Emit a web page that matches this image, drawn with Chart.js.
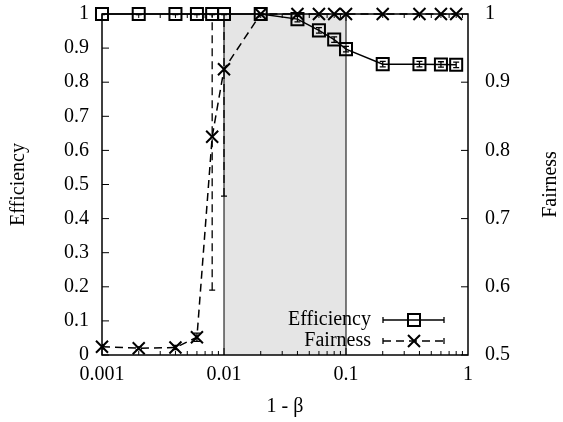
<!DOCTYPE html>
<html><head><meta charset="utf-8">
<script src="https://cdn.jsdelivr.net/npm/chart.js@4/dist/chart.umd.min.js"></script>
<style>html,body{margin:0;padding:0;background:#fff}#wrap{width:563px;height:422px;position:relative}canvas{display:block}</style>
</head><body><div id="wrap"><canvas id="c" width="563" height="422"></canvas></div>
<script>
// ---- data ----
const xValues = [0.001, 0.002, 0.004, 0.006, 0.008, 0.01, 0.02, 0.04, 0.06, 0.08, 0.1, 0.2, 0.4, 0.6, 0.8];
const efficiency = [1, 1, 1, 1, 1, 1, 1, 0.985, 0.952, 0.925, 0.897, 0.853, 0.853, 0.852, 0.851];
const efficiencyErr = [0.002, 0.002, 0.002, 0.002, 0.002, 0.002, 0.002, 0.008, 0.008, 0.008, 0.008, 0.008, 0.008, 0.008, 0.008];
const fairness = [0.512, 0.510, 0.511, 0.526, 0.82, 0.919, 1, 1, 1, 1, 1, 1, 1, 1, 1];
const fairnessErr = [0.003, 0.002, 0.003, 0.006, 0.225, 0.186, 0, 0, 0, 0, 0, 0, 0, 0, 0];
const shadeRange = [0.01, 0.1];
const xTicks = [0.001, 0.01, 0.1, 1];
const xTickLabels = ['0.001', '0.01', '0.1', '1'];
const yLeftTicks = [0, 0.1, 0.2, 0.3, 0.4, 0.5, 0.6, 0.7, 0.8, 0.9, 1];
const yRightTicks = [0.5, 0.6, 0.7, 0.8, 0.9, 1];
const seriesNames = ['Efficiency', 'Fairness'];
const xTitle = '1 - β';
const yLeftTitle = 'Efficiency';
const yRightTitle = 'Fairness';

const FONT = 'Liberation Serif';
const DASH = [8, 5];

function fmt(v){ return String(Math.round(v*10)/10); }

const deco = {
  id: 'deco',
  beforeDatasetsDraw(chart){
    const {ctx, chartArea:a, scales} = chart;
    const x = scales.x, yl = scales.y, yr = scales.y2;
    const x0 = x.getPixelForValue(shadeRange[0]), x1 = x.getPixelForValue(shadeRange[1]);
    ctx.save();
    ctx.fillStyle = '#e5e5e5';
    ctx.fillRect(x0, a.top, x1 - x0, a.bottom - a.top);
    ctx.strokeStyle = '#000'; ctx.lineWidth = 1;
    ctx.beginPath();
    ctx.moveTo(x0, a.top); ctx.lineTo(x0, a.bottom);
    ctx.moveTo(x1, a.top); ctx.lineTo(x1, a.bottom);
    ctx.stroke();
    ctx.beginPath(); ctx.rect(a.left, a.top, a.right - a.left, a.bottom - a.top); ctx.clip();
    const bars = (vals, errs, scale, dash) => {
      ctx.setLineDash(dash); ctx.lineWidth = 1.3;
      for (let i = 0; i < xValues.length; i++) {
        if (!errs[i]) continue;
        const px = x.getPixelForValue(xValues[i]);
        const ya = scale.getPixelForValue(vals[i] - errs[i]);
        const yb = scale.getPixelForValue(vals[i] + errs[i]);
        ctx.beginPath(); ctx.moveTo(px, ya); ctx.lineTo(px, yb); ctx.stroke();
        ctx.setLineDash([]);
        ctx.beginPath();
        ctx.moveTo(px - 3, ya); ctx.lineTo(px + 3, ya);
        ctx.moveTo(px - 3, yb); ctx.lineTo(px + 3, yb);
        ctx.stroke();
        ctx.setLineDash(dash);
      }
      ctx.setLineDash([]);
    };
    bars(efficiency, efficiencyErr, yl, []);
    bars(fairness, fairnessErr, yr, DASH);
    ctx.restore();
  },
  afterDatasetsDraw(chart){
    const {ctx, chartArea:a, scales} = chart;
    const x = scales.x, yl = scales.y, yr = scales.y2;
    ctx.save();
    ctx.strokeStyle = '#000'; ctx.lineWidth = 1.5;
    ctx.strokeRect(a.left, a.top, a.right - a.left, a.bottom - a.top);
    ctx.lineWidth = 1;
    ctx.beginPath();
    for (let d = -3; d < 0; d++) {
      for (let m = 1; m <= 9; m++) {
        const v = m * Math.pow(10, d);
        const px = x.getPixelForValue(v);
        const len = m === 1 ? 7 : 4;
        ctx.moveTo(px, a.bottom); ctx.lineTo(px, a.bottom - len);
        ctx.moveTo(px, a.top); ctx.lineTo(px, a.top + len);
      }
    }
    yLeftTicks.forEach(v => { const py = yl.getPixelForValue(v); ctx.moveTo(a.left, py); ctx.lineTo(a.left + 7, py); });
    yRightTicks.forEach(v => { const py = yr.getPixelForValue(v); ctx.moveTo(a.right, py); ctx.lineTo(a.right - 7, py); });
    ctx.stroke();
    ctx.font = '20px "' + FONT + '"';
    ctx.fillStyle = '#000';
    ctx.textAlign = 'right'; ctx.textBaseline = 'middle';
    const lx0 = 383, lx1 = 444, lm = 414;
    const rows = [[seriesNames[0], 320, [], 'sq'], [seriesNames[1], 341, DASH, 'x']];
    rows.forEach(([t, y, dash, mk]) => {
      ctx.fillText(t, 371, y);
      ctx.lineWidth = 1.3;
      ctx.setLineDash(dash);
      ctx.beginPath(); ctx.moveTo(lx0, y); ctx.lineTo(lx1, y); ctx.stroke();
      ctx.setLineDash([]);
      ctx.beginPath(); ctx.moveTo(lx0, y - 3); ctx.lineTo(lx0, y + 3); ctx.moveTo(lx1, y - 3); ctx.lineTo(lx1, y + 3); ctx.stroke();
      ctx.lineWidth = 2;
      ctx.beginPath();
      if (mk === 'sq') { ctx.rect(lm - 6, y - 6, 12, 12); }
      else { ctx.moveTo(lm - 6, y - 6); ctx.lineTo(lm + 6, y + 6); ctx.moveTo(lm + 6, y - 6); ctx.lineTo(lm - 6, y + 6); }
      ctx.stroke();
    });
    ctx.translate(551, (a.top + a.bottom) / 2);
    ctx.rotate(-Math.PI / 2);
    ctx.textAlign = 'center'; ctx.textBaseline = 'middle';
    ctx.fillText(yRightTitle, 0, 0);
    ctx.restore();
  }
};

const tickFont = {family: FONT, size: 20};
function fixV(w){ return s => { s.width = w; s.paddingTop = 0; s.paddingBottom = 0; }; }
new Chart(document.getElementById('c'), {
  type: 'line',
  data: {
    datasets: [
      {
        label: seriesNames[0], yAxisID: 'y',
        data: xValues.map((v, i) => ({x: v, y: efficiency[i]})),
        borderColor: '#000', borderWidth: 1.5, backgroundColor: 'rgba(0,0,0,0)',
        pointStyle: 'rect', pointRadius: 8.5, pointBorderWidth: 2,
        pointBorderColor: '#000', pointBackgroundColor: 'rgba(0,0,0,0)',
        tension: 0, clip: false
      },
      {
        label: seriesNames[1], yAxisID: 'y2',
        data: xValues.map((v, i) => ({x: v, y: fairness[i]})),
        borderColor: '#000', borderWidth: 1.5, borderDash: DASH, backgroundColor: 'rgba(0,0,0,0)',
        pointStyle: 'crossRot', pointRadius: 8.5, pointBorderWidth: 2,
        pointBorderColor: '#000', pointBackgroundColor: 'rgba(0,0,0,0)',
        tension: 0, clip: false
      }
    ]
  },
  options: {
    responsive: false, animation: false, devicePixelRatio: 1,
    layout: {padding: {top: 14, left: 0, right: 0, bottom: 0}},
    plugins: {legend: {display: false}, tooltip: {enabled: false}},
    scales: {
      x: {
        type: 'logarithmic', min: 0.001, max: 1,
        afterBuildTicks: s => { s.ticks = xTicks.map(v => ({value: v})); },
        ticks: {font: tickFont, color: '#000', padding: 8, maxRotation: 0, autoSkip: false,
          callback: (v) => { const i = xTicks.indexOf(v); return i >= 0 ? xTickLabels[i] : ''; }},
        grid: {display: false, tickLength: 0}, border: {display: false},
        title: {display: true, text: xTitle, font: tickFont, color: '#000', padding: {top: 0, bottom: 3}},
        afterFit: s => { s.height = 67; s.paddingLeft = 0; s.paddingRight = 0; }
      },
      y: {
        type: 'linear', position: 'left', min: 0, max: 1,
        afterBuildTicks: s => { s.ticks = yLeftTicks.map(v => ({value: v})); },
        ticks: {font: tickFont, color: '#000', padding: 13, callback: v => fmt(v)},
        grid: {display: false, tickLength: 0}, border: {display: false},
        title: {display: true, text: yLeftTitle, font: tickFont, color: '#000', padding: {top: 7, bottom: 0}},
        afterFit: fixV(102)
      },
      y2: {
        type: 'linear', position: 'right', min: 0.5, max: 1,
        afterBuildTicks: s => { s.ticks = yRightTicks.map(v => ({value: v})); },
        ticks: {font: tickFont, color: '#000', padding: 17, callback: v => fmt(v)},
        grid: {display: false, tickLength: 0}, border: {display: false},
        title: {display: false, text: yRightTitle},
        afterFit: fixV(95)
      }
    }
  },
  plugins: [deco]
});
</script>
</body></html>
